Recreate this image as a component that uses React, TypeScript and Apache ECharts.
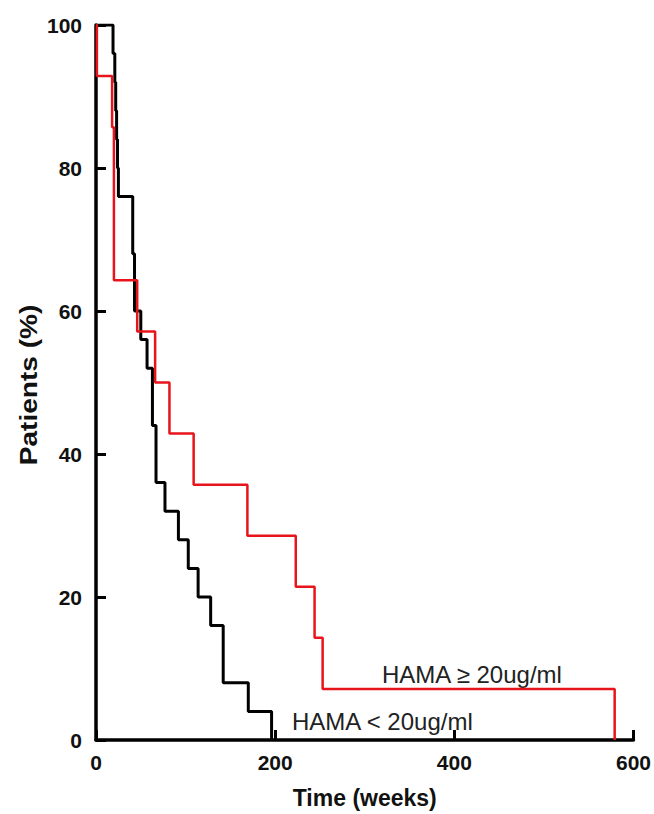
import React, { useEffect, useRef } from "react";
import * as echarts from "echarts";

// HAMA < 20ug/ml (black)
const lowTimes = [0, 19, 21, 22, 23, 24, 25, 41, 41, 43, 43, 50, 57, 63, 63, 67, 67, 77, 92, 103, 114, 128, 142, 142, 170, 196];
const lowValues = [100, 96, 92, 88, 84, 80, 76, 72, 68, 64, 60, 56, 52, 48, 44, 40, 36, 32, 28, 24, 20, 16, 12, 8, 4, 0];

// HAMA >= 20ug/ml (red)
const highTimes = [0, 1, 18, 20, 20, 20, 46, 66, 82, 109, 169, 223, 244, 253, 579];
const highValues = [100, 92.86, 85.71, 78.57, 71.43, 64.29, 57.14, 50, 42.86, 35.71, 28.57, 21.43, 14.29, 7.14, 0];

const xTicks = [0, 200, 400, 600];
const yTicks = [0, 20, 40, 60, 80, 100];

const labelHigh = "HAMA \u2265 20ug/ml";
const labelLow = "HAMA < 20ug/ml";
const xTitle = "Time (weeks)";
const yTitle = "Patients (%)";

const FONT = "'Liberation Sans', Arial, Helvetica, sans-serif";

export default function App() {
  const ref = useRef<HTMLDivElement>(null);

  useEffect(() => {
    if (!ref.current) return;
    const chart = echarts.init(ref.current, undefined, { renderer: "svg" });
    const low = lowTimes.map((t, i) => [t, lowValues[i]]);
    const high = highTimes.map((t, i) => [t, highValues[i]]);
    const axisText = { color: "#111", fontWeight: "bold" as const, fontSize: 21, fontFamily: FONT };
    const nameText = { color: "#111", fontWeight: "bold" as const, fontSize: 23, fontFamily: FONT };
    chart.setOption({
      animation: false,
      backgroundColor: "#fff",
      grid: { left: 96, right: 19, top: 25, bottom: 69 },
      xAxis: {
        type: "value",
        min: xTicks[0],
        max: xTicks[xTicks.length - 1],
        interval: 200,
        name: xTitle,
        nameLocation: "middle",
        nameGap: 46,
        nameTextStyle: nameText,
        axisLine: { show: true, lineStyle: { color: "#000", width: 3.5 } },
        axisTick: { show: true, inside: true, length: 10, lineStyle: { color: "#000", width: 3 } },
        axisLabel: { ...axisText, margin: 12 },
        splitLine: { show: false },
      },
      yAxis: {
        type: "value",
        min: yTicks[0],
        max: yTicks[yTicks.length - 1],
        interval: 20,
        axisLine: { show: true, lineStyle: { color: "#000", width: 3.5 } },
        axisTick: { show: true, inside: true, length: 10, lineStyle: { color: "#000", width: 3 } },
        axisLabel: { ...axisText, margin: 14 },
        splitLine: { show: false },
      },
      series: [
        {
          name: labelLow,
          type: "line",
          step: "end",
          data: low,
          showSymbol: false,
          lineStyle: { color: "#000", width: 3 },
          z: 2,
        },
        {
          name: labelHigh,
          type: "line",
          step: "end",
          data: high,
          showSymbol: false,
          lineStyle: { color: "#e8141b", width: 2.5 },
          z: 3,
        },
      ],
      graphic: [
        {
          type: "text",
          x: 29,
          y: 385,
          rotation: Math.PI / 2,
          scaleX: 1.22,
          style: {
            text: yTitle,
            fontSize: 23,
            fontWeight: "bold",
            fontFamily: FONT,
            fill: "#111",
            textAlign: "center",
            textVerticalAlign: "middle",
          },
        },
        {
          type: "text",
          left: 382,
          top: 662,
          style: { text: labelHigh, fontSize: 24, fontFamily: FONT, fill: "#222" },
        },
        {
          type: "text",
          left: 292,
          top: 709,
          style: { text: labelLow, fontSize: 24, fontFamily: FONT, fill: "#222" },
        },
      ],
    });
    return () => chart.dispose();
  }, []);

  return (
    <div
      ref={ref}
      style={{ position: "fixed", left: 0, top: 0, width: 654, height: 814, background: "#fff" }}
    />
  );
}
